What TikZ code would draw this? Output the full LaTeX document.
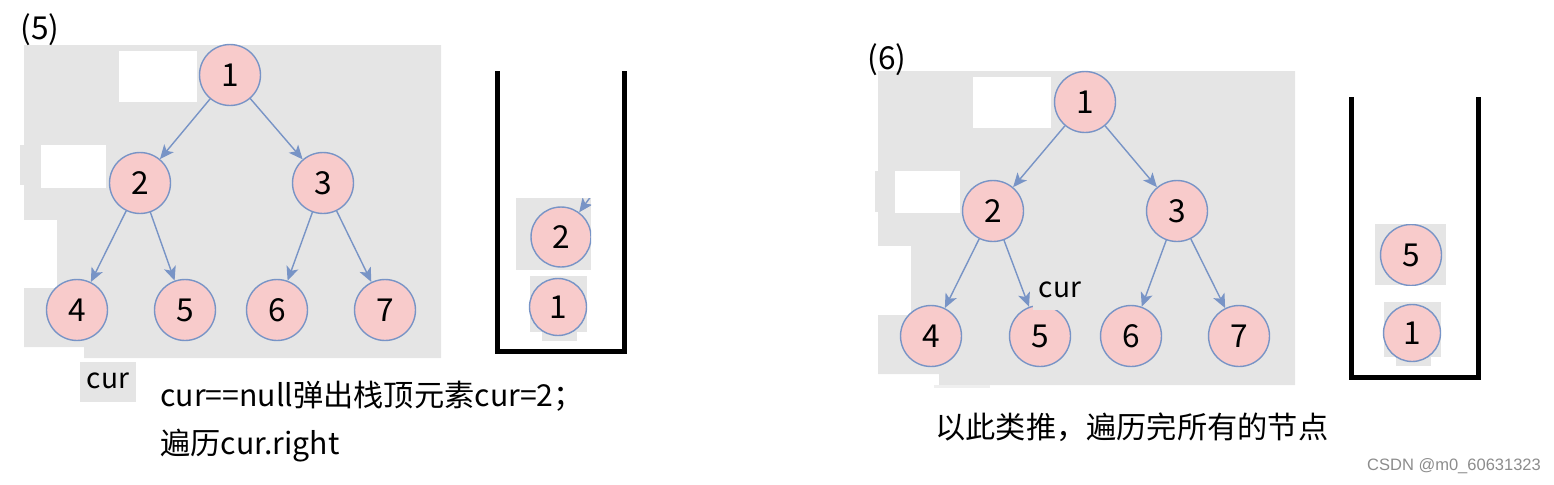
\documentclass[tikz,border=0pt]{standalone}
\usepackage{fontspec}
\setmainfont{Noto Sans CJK SC}
\newfontfamily\wmfont{Liberation Sans}
\usetikzlibrary{arrows.meta}
\definecolor{panelgray}{HTML}{E5E5E5}
\definecolor{nodepink}{HTML}{F8CBCB}
\definecolor{edgeblue}{HTML}{7894C6}

\begin{document}
\begin{tikzpicture}[x=0.02cm,y=-0.02cm,line cap=round,line join=round,>={Stealth[length=8pt,width=7pt,inset=2pt]}]
\tikzset{
    treenode/.style={circle,draw=edgeblue,fill=nodepink,line width=0.8pt,minimum size=1.22cm,inner sep=0pt,font=\fontsize{18}{18}\selectfont},
    stacknode/.style={treenode,minimum size=1.14cm},
    treeedge/.style={->,draw=edgeblue,line width=0.8pt},
    stackwall/.style={line width=2.8pt,line cap=butt,line join=miter},
    patch/.style={fill=panelgray,draw=none},
    blank/.style={fill=white,draw=none},
    caption/.style={font=\fontsize{17.2}{20}\selectfont,inner sep=0pt}
}
\useasboundingbox (0,0) rectangle (1554,484);

%% Panel (5): background and patches
\fill[panelgray] (24,45) -- (441,45) -- (441,358) -- (84,358) -- (84,347) -- (24,347) -- cycle;
\fill[panelgray] (20,145) rectangle (24,185);
\fill[blank] (119,51) rectangle (197,102);
\fill[blank] (41,145) rectangle (106,188);
\fill[blank] (24,220) rectangle (57,288);
\node[font=\fontsize{18}{18}\selectfont] (lbl5) at (40,30) {(5)};

%% Panel (5): tree
\node[treenode] (a1) at (230,75) {1};
\node[treenode] (a2) at (140,183) {2};
\node[treenode] (a3) at (323,183) {3};
\node[treenode] (a4) at (77,310) {4};
\node[treenode] (a5) at (185,310) {5};
\node[treenode] (a6) at (277,310) {6};
\node[treenode] (a7) at (385,310) {7};
\draw[treeedge] (a1) -- (a2);
\draw[treeedge] (a1) -- (a3);
\draw[treeedge] (a2) -- (a4);
\draw[treeedge] (a2) -- (a5);
\draw[treeedge] (a3) -- (a6);
\draw[treeedge] (a3) -- (a7);

\fill[patch] (80,362) rectangle (136,402);
\node[font=\fontsize{16}{16}\selectfont] (cura) at (108,381) {cur};
\node[caption,anchor=west] (capa1) at (160,396) {cur==null弹出栈顶元素cur=2；};
\node[caption,anchor=west] (capa2) at (160,446) {遍历cur.right};

%% Panel (5): stack
\draw[stackwall] (497.5,71) -- (497.5,351.5) -- (624.5,351.5) -- (624.5,71);
\fill[patch] (516,198) rectangle (591,270);
\fill[patch] (530,276) rectangle (587,332);
\fill[patch] (542,332) rectangle (577,341);
\begin{scope}
\clip (516,198) rectangle (591,270);
\node[stacknode,minimum size=1.2cm] (s2) at (561,237) {2};
\coordinate (s2tail) at (625,150);
\draw[treeedge] (s2tail) -- (s2);
\end{scope}
\node[stacknode] (s1) at (558,307) {1};

%% Panel (6): background and patches
\fill[panelgray] (878,71) -- (1295,71) -- (1295,385) -- (939,385) -- (939,374) -- (878,374) -- cycle;
\fill[panelgray] (875,171) rectangle (878,212);
\fill[panelgray!60] (934,385) rectangle (990,388);
\fill[blank] (973,77) rectangle (1051,128);
\fill[blank] (895,171) rectangle (960,213);
\fill[blank] (878,246) rectangle (911,315);
\node[font=\fontsize{18}{18}\selectfont] (lbl6) at (887,60) {(6)};

%% Panel (6): tree
\node[treenode] (b1) at (1085,102) {1};
\node[treenode] (b2) at (993,211) {2};
\node[treenode] (b3) at (1177,211) {3};
\node[treenode] (b4) at (931,336) {4};
\node[treenode] (b5) at (1040,336) {5};
\node[treenode] (b6) at (1131,336) {6};
\node[treenode] (b7) at (1239,336) {7};
\draw[treeedge] (b1) -- (b2);
\draw[treeedge] (b1) -- (b3);
\draw[treeedge] (b2) -- (b4);
\draw[treeedge] (b2) -- (b5);
\draw[treeedge] (b3) -- (b6);
\draw[treeedge] (b3) -- (b7);

\fill[patch] (1033,273) rectangle (1088,310);
\node[font=\fontsize{16}{16}\selectfont] (curb) at (1060,290) {cur};
\node[caption,anchor=west] (capb) at (935,427) {以此类推，遍历完所有的节点};

%% Panel (6): stack
\draw[stackwall] (1351.5,97) -- (1351.5,377.5) -- (1478.5,377.5) -- (1478.5,97);
\fill[patch] (1375,224) rectangle (1446,285);
\fill[patch] (1384,302) rectangle (1441,357);
\fill[patch] (1396,357) rectangle (1431,366);
\begin{scope}
\clip (1375,224) rectangle (1446,285);
\node[stacknode,minimum size=1.22cm] (t5) at (1411,255) {5};
\end{scope}
\node[stacknode] (t1) at (1412,333) {1};

\node[font=\wmfont\fontsize{9.4}{9.4}\selectfont,text=black!45] (wm) at (1454,466) {CSDN @m0\_60631323};

\end{tikzpicture}
\end{document}
